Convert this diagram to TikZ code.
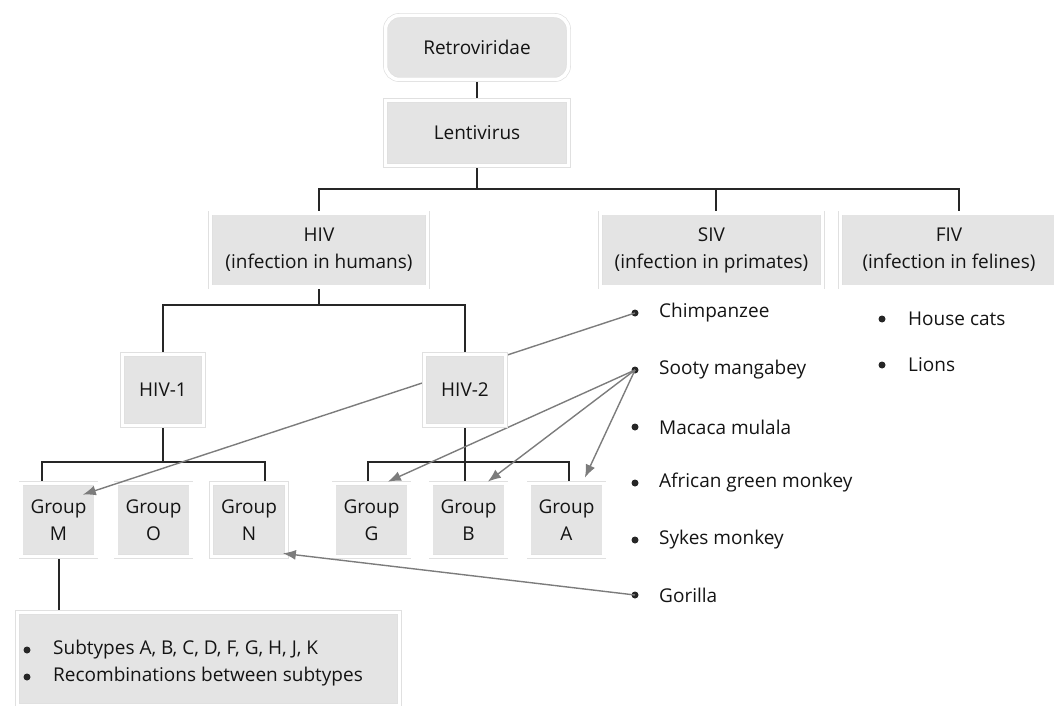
\documentclass[tikz,border=0pt]{standalone}
\usepackage{fontspec}
\setmainfont{Open Sans}
\usetikzlibrary{calc, positioning, arrows.meta, backgrounds}

\definecolor{boxgray}{HTML}{E4E4E4}
\definecolor{linkgray}{HTML}{7C7C7C}
\definecolor{inkgray}{HTML}{141414}

\begin{document}
\begin{tikzpicture}[x=1pt, y=-1pt, font=\fontsize{19}{27}\selectfont, text=inkgray]
    \tikzstyle{taxon} = [rectangle, fill=boxgray, draw=black!12, double=white, double distance=3.5pt, line width=0.7pt, align=center, inner sep=0pt]
    \tikzstyle{groupbox} = [taxon, minimum width=75pt, minimum height=73pt]
    \tikzstyle{tree} = [line width=2pt, black!85]
    \tikzstyle{link} = [line width=1.4pt, linkgray, -{Latex[length=13pt, width=10pt]}]
    \tikzstyle{dot} = [circle, fill=black!85, inner sep=0pt, minimum size=7pt]
    \tikzstyle{item} = [right, inner sep=0pt]

    \useasboundingbox (0, 0) rectangle (1054, 706);

    % Taxa ----------------------------------------------
    \node (retro) at (477, 47.5) [taxon, rounded corners=14pt, minimum width=183pt, minimum height=64pt] {Retroviridae};
    \node (lenti) at ($(retro) + (0, 85.5)$) [taxon, minimum width=183pt, minimum height=65pt] {Lentivirus};
    \node (hiv) at (319, 250) [taxon, minimum width=217pt, minimum height=74pt] {HIV\\(infection in humans)};
    \node (siv) at (711.5, 250) [taxon, minimum width=222pt, minimum height=74pt] {SIV\\(infection in primates)};
    \node (fiv) at ($(siv) + (237.5, 0)$) [taxon, minimum width=217pt, minimum height=74pt] {FIV\\(infection in felines)};
    \node (hiv1) at (163, 390) [taxon, minimum width=81pt, minimum height=71pt] {HIV-1};

    % Groups
    \node (gM) at (58.5, 520) [groupbox] {Group\\M};
    \node (gO) at ($(gM) + (95, 0)$) [groupbox] {Group\\O};
    \node (gN) at ($(gO) + (95.5, 0)$) [groupbox] {Group\\N};
    \node (gG) at (371.5, 520) [groupbox] {Group\\G};
    \node (gB) at ($(gG) + (97, 0)$) [groupbox] {Group\\B};
    \node (gA) at ($(gB) + (98, 0)$) [groupbox] {Group\\A};

    \node (sub) at (208.5, 659) [taxon, minimum width=382pt, minimum height=93pt] {};
    \node (sub1dot) at (27, 650) [dot] {};
    \node (sub1) at ($(sub1dot) + (26, 0)$) [item] {Subtypes A, B, C, D, F, G, H, J, K};
    \node (sub2dot) at ($(sub1dot) + (0, 27)$) [dot] {};
    \node (sub2) at ($(sub2dot) + (26, 0)$) [item] {Recombinations between subtypes};

    % Hosts ---------------------------------------------
    \node (chimp) at (635, 313) [dot] {};
    \node (chimptxt) at ($(chimp) + (24, 0)$) [item] {Chimpanzee};
    \node (sooty) at ($(chimp) + (0, 57)$) [dot] {};
    \node (sootytxt) at ($(sooty) + (24, 0)$) [item] {Sooty mangabey};
    \node (macaca) at ($(sooty) + (0, 57)$) [dot] {};
    \node (macacatxt) at ($(macaca) + (24, 0)$) [item] {Macaca mulala};
    \node (agm) at ($(macaca) + (0, 56)$) [dot] {};
    \node (agmtxt) at ($(agm) + (24, 0)$) [item] {African green monkey};
    \node (sykes) at ($(agm) + (0, 57)$) [dot] {};
    \node (sykestxt) at ($(sykes) + (24, 0)$) [item] {Sykes monkey};
    \node (gorilla) at ($(sykes) + (0, 55)$) [dot] {};
    \node (gorillatxt) at ($(gorilla) + (24, 0)$) [item] {Gorilla};

    \node (cats) at (882, 319) [dot] {};
    \node (catstxt) at ($(cats) + (26, 0)$) [item] {House cats};
    \node (lions) at ($(cats) + (0, 46)$) [dot] {};
    \node (lionstxt) at ($(lions) + (26, 0)$) [item] {Lions};

    % Origins (drawn before HIV-2, which hides the chimpanzee line)
    \draw [link] (chimp.center) -- ($(gM.north east) + (-13.5, 11.5)$);
    \draw [link] (sooty.center) -- ($(gG.north east) + (-21.5, -1.5)$);
    \draw [link] (sooty.center) -- ($(gB.north east) + (-18.5, -1.5)$);
    \draw [link] (sooty.center) -- ($(gA.north east) + (-19.5, -5.5)$);
    \draw [link] (gorilla.center) -- ($(gN.south east) + (-4, -3.5)$);

    \node (hiv2) at ($(hiv1) + (302, 0)$) [taxon, minimum width=81pt, minimum height=71pt] {HIV-2};

    % Tree ----------------------------------------------
    \coordinate (bar1) at (0, 189);
    \coordinate (bar2) at (0, 305);
    \coordinate (bar3) at (0, 462);

    \begin{pgfonlayer}{background}
    \draw [tree] (retro) -- (lenti);
    \draw [tree] (lenti) -- (lenti |- bar1);
    \draw [tree] (hiv.north) -- (hiv.north |- bar1) --
        ($(fiv.north |- bar1) + (10, 0)$) -- ($(fiv.north) + (10, 0)$);
    \draw [tree] ($(siv.north) + (4.5, 0)$) -- ($(siv.north |- bar1) + (4.5, 0)$);

    \draw [tree] (hiv) -- (hiv |- bar2);
    \draw [tree] (hiv1.north) -- (hiv1.north |- bar2) -- (hiv2.north |- bar2) -- (hiv2.north);

    \draw [tree] (hiv1) -- (hiv1 |- bar3);
    \draw [tree] ($(gM.north) + (-16.5, 0)$) -- ($(gM.north |- bar3) + (-16.5, 0)$) --
        ($(gN.north |- bar3) + (16, 0)$) -- ($(gN.north) + (16, 0)$);
    \draw [tree] (hiv2.south) -- (hiv2.south |- gB.north);
    \draw [tree] ($(gG.north) + (-3.5, 0)$) -- ($(gG.north |- bar3) + (-3.5, 0)$) --
        ($(gA.north |- bar3) + (2.5, 0)$) -- ($(gA.north) + (2.5, 0)$);

    \draw [tree] (gM) -- (gM |- sub.north);
    \end{pgfonlayer}
\end{tikzpicture}
\end{document}
